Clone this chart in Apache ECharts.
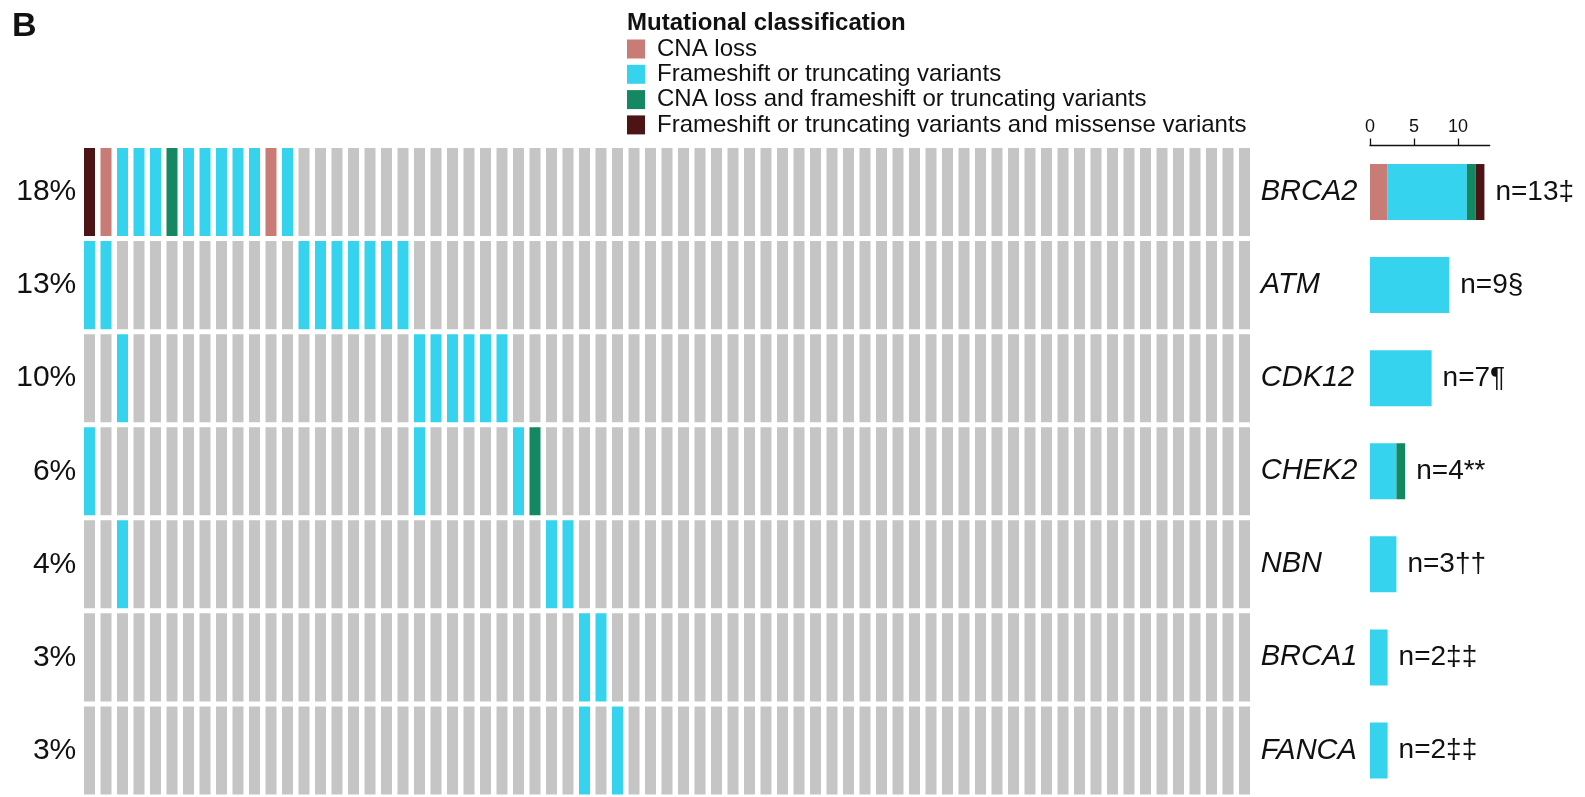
<!DOCTYPE html>
<html>
<head>
<meta charset="utf-8">
<title>Mutational classification</title>
<script src="https://cdn.jsdelivr.net/npm/echarts@6/dist/echarts.min.js"></script>
<style>
  html, body { margin: 0; padding: 0; background: #ffffff; }
  #chart { width: 1585px; height: 797px; }
</style>
</head>
<body>
<div id="chart"></div>
<script>
// Genes (rows, top to bottom) and the number of profiled samples (columns)
const genes = ['BRCA2', 'ATM', 'CDK12', 'CHEK2', 'NBN', 'BRCA1', 'FANCA'];
const sampleCount = 71;
const pctLabels = ['18%', '13%', '10%', '6%', '4%', '3%', '3%'];
const footnotes = ['‡', '§', '¶', '**', '††', '‡‡', '‡‡'];

// Classification codes: 1 CNA loss, 2 frameshift/truncating,
// 3 CNA loss + frameshift/truncating, 4 frameshift/truncating + missense
const classNames = [
  'CNA loss',
  'Frameshift or truncating variants',
  'CNA loss and frameshift or truncating variants',
  'Frameshift or truncating variants and missense variants'
];
const classColors = ['#c97b75', '#35d3ee', '#148763', '#4d1416'];
const noneColor = '#c5c5c5';

// Altered samples per gene: [sample index, classification code]
const brca2 = [[0, 4], [1, 1], [2, 2], [3, 2], [4, 2], [5, 3], [6, 2], [7, 2], [8, 2], [9, 2], [10, 2], [11, 1], [12, 2]];
const atm = [[0, 2], [1, 2], [13, 2], [14, 2], [15, 2], [16, 2], [17, 2], [18, 2], [19, 2]];
const cdk12 = [[2, 2], [20, 2], [21, 2], [22, 2], [23, 2], [24, 2], [25, 2]];
const chek2 = [[0, 2], [20, 2], [26, 2], [27, 3]];
const nbn = [[2, 2], [28, 2], [29, 2]];
const brca1 = [[30, 2], [31, 2]];
const fanca = [[30, 2], [32, 2]];
const alterations = [brca2, atm, cdk12, chek2, nbn, brca1, fanca];

// Full sample x gene matrix for the oncoprint
const cells = [];
alterations.forEach((list, g) => {
  const codes = new Array(sampleCount).fill(0);
  list.forEach(([s, c]) => { codes[s] = c; });
  codes.forEach((c, s) => cells.push([s, g, c]));
});

// Per-gene counts by classification, for the stacked bars
const counts = classNames.map((_, k) =>
  alterations.map(list => list.filter(([, c]) => c === k + 1).length));
const totals = alterations.map(list => list.length);

const FONT = '"Liberation Sans", Arial, Helvetica, sans-serif';
const INK = '#111111';

const gridTop = 145.5, gridHeight = 658;

const chart = echarts.init(document.getElementById('chart'), null, { renderer: 'canvas' });

const barSeries = classNames.map((name, k) => ({
  name: name,
  type: 'bar',
  stack: 'n',
  xAxisIndex: 1,
  yAxisIndex: 2,
  barWidth: 56,
  itemStyle: { color: classColors[k] },
  data: counts[k],
  silent: true
}));

chart.setOption({
  animation: false,
  backgroundColor: '#ffffff',
  title: [
    {
      text: 'B', left: 12, top: 10, padding: 0,
      textStyle: { fontFamily: FONT, fontWeight: 'bold', fontSize: 34, color: INK }
    },
    {
      text: 'Mutational classification', left: 627, top: 11, padding: 0,
      textStyle: { fontFamily: FONT, fontWeight: 'bold', fontSize: 24, color: INK }
    }
  ],
  legend: {
    orient: 'vertical',
    left: 627,
    top: 37,
    padding: 0,
    itemWidth: 18,
    itemHeight: 19,
    itemGap: 1.3,
    icon: 'rect',
    selectedMode: false,
    data: classNames,
    textStyle: { fontFamily: FONT, fontSize: 24, color: INK, lineHeight: 24, padding: [0, 0, 0, 7] }
  },
  grid: [
    { left: 81.25, top: gridTop, width: 1171.5, height: gridHeight },
    { left: 1370, top: gridTop, width: 119.7, height: gridHeight }
  ],
  xAxis: [
    {
      type: 'category', gridIndex: 0,
      data: Array.from({ length: sampleCount }, (_, i) => i + 1),
      show: false
    },
    {
      type: 'value', gridIndex: 1, position: 'top',
      min: 0, max: 13.6,
      axisLine: { show: true, lineStyle: { color: INK, width: 1.3 } },
      axisTick: { show: true, length: 7, customValues: [0, 5, 10], lineStyle: { color: INK, width: 1.3 } },
      axisLabel: { customValues: [0, 5, 10], fontFamily: FONT, fontSize: 18, color: INK, margin: 9 },
      splitLine: { show: false }
    }
  ],
  yAxis: [
    {
      type: 'category', gridIndex: 0, position: 'left', inverse: true,
      data: pctLabels,
      axisLine: { show: false }, axisTick: { show: false },
      axisLabel: { fontFamily: FONT, fontSize: 30, color: INK, margin: 5 }
    },
    {
      type: 'category', gridIndex: 0, position: 'right', inverse: true,
      data: genes,
      axisLine: { show: false }, axisTick: { show: false },
      axisLabel: { fontFamily: FONT, fontSize: 29, fontStyle: 'italic', color: INK, margin: 8 }
    },
    {
      type: 'category', gridIndex: 1, inverse: true,
      data: genes, show: false
    }
  ],
  series: [
    {
      type: 'custom',
      xAxisIndex: 0,
      yAxisIndex: 0,
      silent: true,
      data: cells,
      renderItem: function (params, api) {
        const code = api.value(2);
        const center = api.coord([api.value(0), api.value(1)]);
        const band = api.size([1, 1]);
        const w = band[0] - 5.5;
        const h = band[1] - 5;
        return {
          type: 'rect',
          shape: { x: center[0] - w / 2, y: center[1] - h / 2, width: w, height: h },
          style: { fill: code ? classColors[code - 1] : noneColor }
        };
      }
    },
    ...barSeries,
    {
      // "n=…" count labels placed at the end of each stacked bar
      type: 'custom',
      xAxisIndex: 1,
      yAxisIndex: 2,
      silent: true,
      data: totals.map((t, g) => [t, g]),
      renderItem: function (params, api) {
        const p = api.coord([api.value(0), api.value(1)]);
        return {
          type: 'text',
          x: p[0] + 11,
          y: p[1],
          style: {
            text: 'n=' + api.value(0) + footnotes[params.dataIndex],
            fill: INK,
            fontFamily: FONT,
            fontSize: 28,
            align: 'left',
            verticalAlign: 'middle'
          }
        };
      }
    }
  ]
});
</script>
</body>
</html>
